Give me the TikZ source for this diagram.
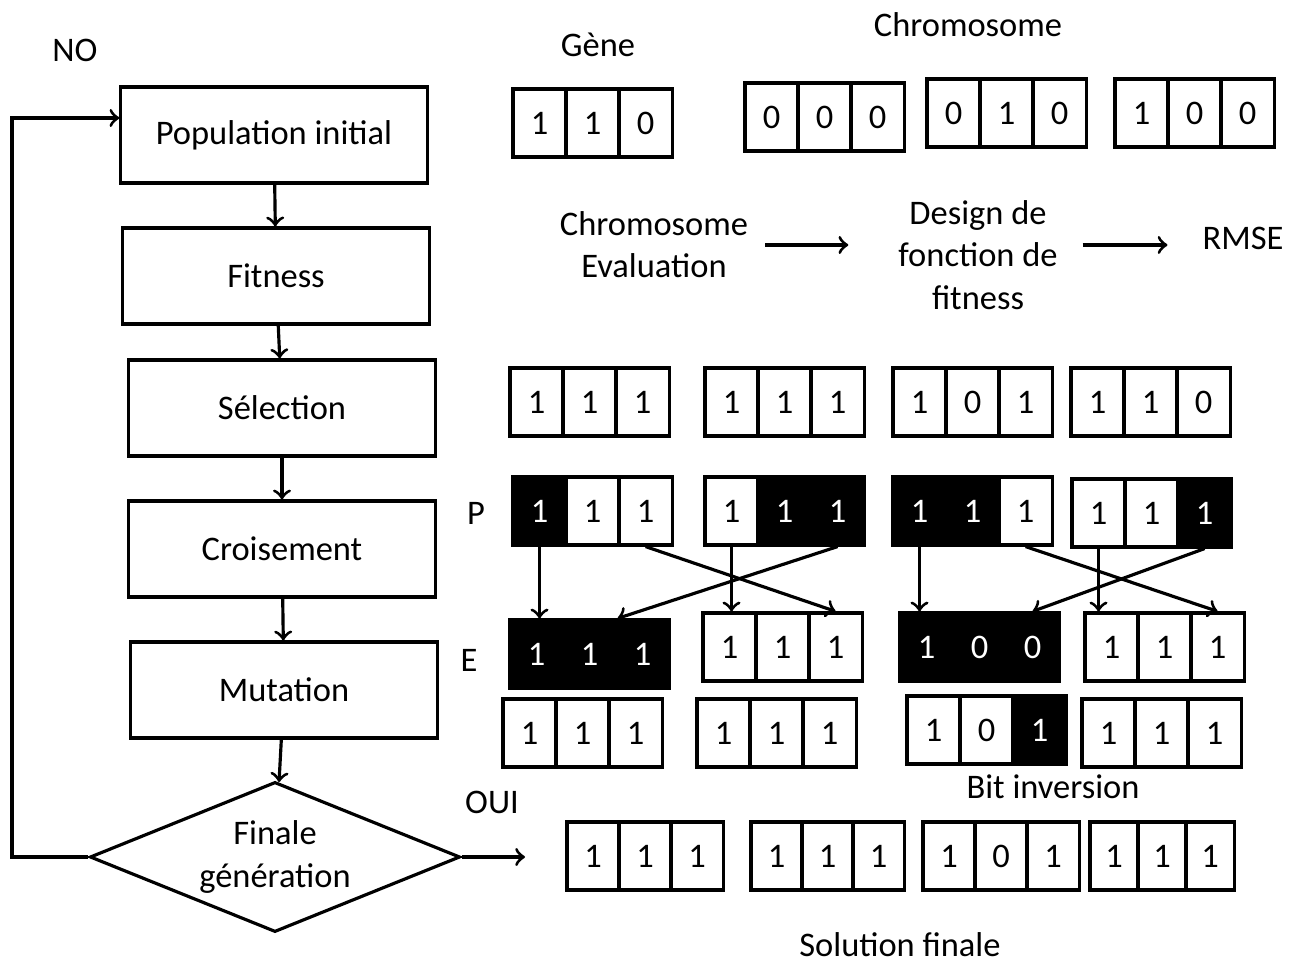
\documentclass[tikz,border=0pt]{standalone}
\usepackage{fontspec}
\setmainfont{Carlito}
\usetikzlibrary{arrows, shapes.geometric, positioning}

% un chromosome = trois cellules (bit/couleur), #3,#4 = bord gauche
\newcommand{\chromo}[5][0.53cm]{%
  \foreach \bit/\fl [count=\i] in {#5}
    \node[cell\fl, minimum width=#1] (#2-\i) at ([xshift={(\i-0.5)*#1}]#3,#4) {\bit};
}

\begin{document}
\begin{tikzpicture}[x=0.01cm, y=-0.01cm, line width=0.9pt, >=to,
    font=\fontsize{9.8}{12}\selectfont,
    etape/.style={draw, minimum width=3.06cm, minimum height=0.96cm},
    cellw/.style={draw, fill=white, minimum height=0.68cm, inner sep=0pt},
    cellk/.style={cellw, fill=black, text=white},
    lbl/.style={align=center, inner sep=1pt}]
\useasboundingbox (0,0) rectangle (1297,962);

% organigramme
\node[etape] (pop) at (274,135) {Population initial};
\node[etape] (fit) at (276,276) {Fitness};
\node[etape] (sel) at (282,408) {Sélection};
\node[etape] (cro) at (282,549) {Croisement};
\node[etape] (mut) at (284,690) {Mutation};
\node[diamond, draw, aspect=2.47, minimum width=3.7cm, minimum height=1.5cm, align=center, inner sep=0pt] (fin) at (275,857) {Finale\\génération};
\coordinate (retour) at (12,857);
\coordinate (oui) at (525,857);

\path[->] (pop) edge (fit)
          (fit) edge (sel)
          (sel) edge (cro)
          (cro) edge (mut)
          (mut) edge (fin);
\draw[->] (fin.west) -- (retour) |- ([yshift=0.17cm]pop.west);
\draw[->] (fin.east) -- (oui);

\node[lbl] (no) at (75,50) {NO};
\node[lbl] (ouil) at (492,802) {OUI};

% gene et chromosomes
\node[lbl] (gene) at (598,45) {Gène};
\node[lbl] (chrom) at (968,25) {Chromosome};
\chromo{g}{513}{123}{1/w,1/w,0/w}
\chromo{ca}{745}{117}{0/w,0/w,0/w}
\chromo{cb}{927}{113}{0/w,1/w,0/w}
\chromo{cc}{1115}{113}{1/w,0/w,0/w}

% evaluation
\node[lbl] (eval) at (654,245) {Chromosome\\Evaluation};
\node[lbl] (design) at (978,255) {Design de\\fonction de\\fitness};
\node[lbl] (rmse) at (1243,238) {RMSE};
\draw[->, shorten <=0.12cm, shorten >=0.45cm] (eval.east) -- (eval.east -| design.west);
\draw[->, shorten <=0.2cm, shorten >=0.3cm] (design.east |- eval.east) -- (rmse.west |- eval.east);

% selection
\chromo{sa}{510}{402}{1/w,1/w,1/w}
\chromo{sb}{705}{402}{1/w,1/w,1/w}
\chromo{sc}{893}{402}{1/w,0/w,1/w}
\chromo{sd}{1071}{402}{1/w,1/w,0/w}

% croisement
\node[lbl] (plbl) at (476,513) {P};
\node[lbl] (elbl) at (469,660) {E};
\chromo{pa}{513}{511}{1/k,1/w,1/w}
\chromo{pb}{705}{511}{1/w,1/k,1/k}
\chromo{pc}{893}{511}{1/k,1/k,1/w}
\chromo{pd}{1072}{513}{1/w,1/w,1/k}
\chromo{ea}{510}{654}{1/k,1/k,1/k}
\chromo{eb}{703}{647}{1/w,1/w,1/w}
\chromo{ec}{900}{647}{1/k,0/k,0/k}
\chromo{ed}{1085}{647}{1/w,1/w,1/w}

\draw[->] (pa-1.south) -- (pa-1.south |- ea-1.north);
\draw[->] (pa-3.south) -- (eb-3.north);
\draw[->] (pb-1.south) -- (pb-1.south |- eb-1.north);
\draw[->] (pb-3.south) -- (ea-2.north east);
\draw[->] (pc-1.south) -- (pc-1.south |- ec-1.north);
\draw[->] (pc-3.south) -- (ed-3.north);
\draw[->] (pd-1.south) -- (pd-1.south |- ed-1.north);
\draw[->] (pd-3.south) -- (ec-3.north);

% mutation
\chromo{ma}{503}{733}{1/w,1/w,1/w}
\chromo{mb}{697}{733}{1/w,1/w,1/w}
\chromo{mc}{907}{730}{1/w,0/w,1/k}
\chromo{md}{1082}{733}{1/w,1/w,1/w}
\node[lbl] (bitinv) at (1053,787) {Bit inversion};

% solution finale
\chromo[0.52cm]{fa}{567}{856}{1/w,1/w,1/w}
\chromo[0.51cm]{fb}{751}{856}{1/w,1/w,1/w}
\chromo[0.52cm]{fc}{923}{856}{1/w,0/w,1/w}
\chromo[0.48cm]{fd}{1090}{856}{1/w,1/w,1/w}
\node[lbl] (sol) at (900,945) {Solution finale};
\end{tikzpicture}
\end{document}
